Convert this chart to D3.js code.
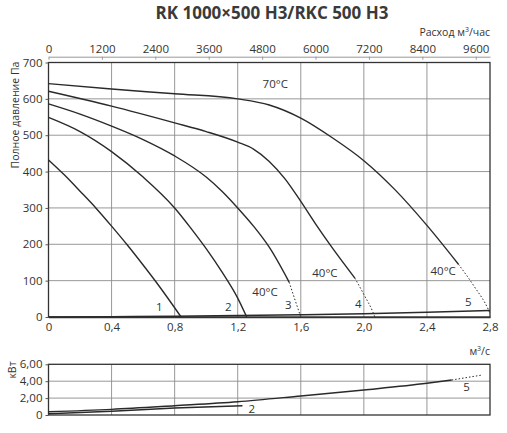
<!DOCTYPE html>
<html>
<head>
<meta charset="utf-8">
<script src="https://cdn.jsdelivr.net/npm/d3@7"></script>
<style>
  body { margin: 0; background: #fff; }
  text { font-family: "Open Sans", "Noto Sans", sans-serif; fill: #333; }
  .grid line { stroke: #8c8c8c; stroke-width: 0.9; }
  .curve { fill: none; stroke: #2a2a2a; stroke-width: 1.4; }
  .dash { fill: none; stroke: #2a2a2a; stroke-width: 1; stroke-dasharray: 1.5,2; }
  .axis text { font-size: 11.5px; }
</style>
</head>
<body>
<div id="chart"></div>
<script>
// fan curves, x = m3/s, y = Pa
var curve1 = [[0,432],[0.1,391],[0.2,346],[0.3,300],[0.4,250],[0.5,198],[0.6,143],[0.7,86],[0.841,0]];
var curve2 = [[0,549],[0.2,510],[0.4,455],[0.6,385],[0.8,300],[0.9,246],[1.0,188],[1.1,124],[1.2,52],[1.257,0]];
var curve3 = [[0,586],[0.2,558],[0.4,525],[0.6,488],[0.8,443],[1.0,385],[1.1,346],[1.2,300],[1.3,250],[1.4,192],[1.526,96]];
var curve3Dash = [[1.526,96],[1.568,41],[1.6,0]];
var curve4 = [[0,621],[0.4,580],[0.8,534],[1.0,510],[1.2,481],[1.3,462],[1.4,428],[1.5,380],[1.6,318],[1.7,252],[1.8,190],[1.943,107]];
var curve4Dash = [[1.943,107],[2.0,62],[2.057,14],[2.07,0]];
var curve5 = [[0,642],[0.4,627],[0.8,614],[1.2,600],[1.4,583],[1.6,547],[1.8,493],[2.0,430],[2.2,349],[2.4,252],[2.6,145]];
var curve5Dash = [[2.6,145],[2.7,84],[2.79,20],[2.8,10]];
var systemLine = [[0,0],[0.4,1],[0.8,2],[1.2,4],[1.6,6],[2.0,9],[2.4,13],[2.8,18]];

// power, x = m3/s, y = kW
var power2 = [[0,0.15],[0.4,0.45],[0.8,0.82],[1.23,1.1]];
var power5 = [[0,0.39],[0.4,0.67],[0.8,1.1],[1.2,1.57],[1.6,2.25],[2.0,2.96],[2.4,3.75],[2.557,4.14]];
var power5Dash = [[2.557,4.14],[2.75,4.73]];

var xTicks = [0,0.4,0.8,1.2,1.6,2.0,2.4,2.8];
var topTicks = [0,1200,2400,3600,4800,6000,7200,8400,9600];
var paTicks = [0,100,200,300,400,500,600,700];
var kwTicks = [0,2,4,6];

// curve labels [x, y, text]
var curveLabels = [[0.703,27,"1"],[1.14,27,"2"],[1.521,33,"3"],[1.965,35,"4"],[2.662,42,"5"],
                   [1.373,69,"40°C"],[1.753,120,"40°C"],[2.503,127,"40°C"],[1.438,640,"70°C"]];
var powerLabels = [[1.289,0.71,"2"],[2.652,3.31,"5"]];

var width = 507, height = 433;
var svg = d3.select("#chart").append("svg")
    .attr("width", width).attr("height", height);

var x = d3.scaleLinear().domain([0, 2.8]).range([48.5, 490]);
var xTop = d3.scaleLinear().domain([0, 9920]).range([48.5, 490]);
var y = d3.scaleLinear().domain([0, 700]).range([317, 62.5]);
var yKw = d3.scaleLinear().domain([0, 6]).range([415, 364.3]);

var comma = function (d) { return d === 0 ? "0" : d3.format(".1f")(d).replace(".", ","); };
var comma2 = function (d) { return d === 0 ? "0" : d3.format(".2f")(d).replace(".", ","); };

// title
svg.append("text")
    .attr("x", 272).attr("y", 19)
    .attr("text-anchor", "middle")
    .style("font-size", "17px").style("font-weight", "bold").style("fill", "#3a3a3a")
    .text("RK 1000×500 H3/RKC 500 H3");

function drawPanel(yScale, yTicks, fmt) {
    var g = svg.append("g");
    // grid
    var grid = g.append("g").attr("class", "grid");
    grid.selectAll(".v").data(xTicks.slice(1, -1)).enter().append("line")
        .attr("x1", x).attr("x2", x)
        .attr("y1", yScale.range()[0]).attr("y2", yScale.range()[1]);
    grid.selectAll(".h").data(yTicks.slice(1, -1)).enter().append("line")
        .attr("x1", x(0)).attr("x2", x(2.8))
        .attr("y1", yScale).attr("y2", yScale);
    // border
    g.append("rect")
        .attr("x", x(0)).attr("y", yScale.range()[1])
        .attr("width", x(2.8) - x(0)).attr("height", yScale.range()[0] - yScale.range()[1])
        .attr("fill", "none").attr("stroke", "#333").attr("stroke-width", 1.3);
    // y axis
    var ya = g.append("g").attr("class", "axis")
        .attr("transform", "translate(" + x(0) + ",0)")
        .call(d3.axisLeft(yScale).tickValues(yTicks).tickFormat(fmt).tickSize(3).tickPadding(3));
    ya.select(".domain").remove();
    ya.selectAll("line").attr("stroke", "#555");
    return g;
}

drawPanel(y, paTicks, d3.format("d"));
drawPanel(yKw, kwTicks, comma2);

// bottom x axis labels under top chart
var xa = svg.append("g").attr("class", "axis")
    .attr("transform", "translate(0," + y(0) + ")")
    .call(d3.axisBottom(x).tickValues(xTicks).tickFormat(comma).tickSize(0).tickPadding(6));
xa.select(".domain").attr("stroke", "#333").attr("stroke-width", 1.6);

// top axis m3/h
var ta = svg.append("g").attr("class", "axis")
    .attr("transform", "translate(0,56.7)")
    .call(d3.axisTop(xTop).tickValues(topTicks).tickFormat(d3.format("d"))
        .tickSizeInner(-3).tickSizeOuter(0).tickPadding(4));
ta.select(".domain").attr("stroke", "#999");
ta.selectAll("line").attr("stroke", "#999");

svg.append("text")
    .attr("x", 490).attr("y", 36).attr("text-anchor", "end")
    .style("font-size", "10.5px")
    .html("Расход м<tspan dy='-4' style='font-size:7px'>3</tspan><tspan dy='4'>/час</tspan>");

svg.append("text")
    .attr("x", 490).attr("y", 355).attr("text-anchor", "end")
    .style("font-size", "10.5px")
    .html("м<tspan dy='-4' style='font-size:7px'>3</tspan><tspan dy='4'>/с</tspan>");

svg.append("text")
    .attr("transform", "translate(19,115) rotate(-90)")
    .attr("text-anchor", "middle")
    .style("font-size", "10.5px")
    .text("Полное давление Па");

svg.append("text")
    .attr("transform", "translate(16,370) rotate(-90)")
    .attr("text-anchor", "middle")
    .style("font-size", "10.5px")
    .text("кВт");

// curves
var line = d3.line().x(function (d) { return x(d[0]); }).y(function (d) { return y(d[1]); })
    .curve(d3.curveMonotoneX);
var lineKw = d3.line().x(function (d) { return x(d[0]); }).y(function (d) { return yKw(d[1]); })
    .curve(d3.curveMonotoneX);

[curve1, curve2, curve3, curve4, curve5, systemLine].forEach(function (c) {
    svg.append("path").attr("class", "curve").attr("d", line(c));
});
[curve3Dash, curve4Dash, curve5Dash].forEach(function (c) {
    svg.append("path").attr("class", "dash").attr("d", line(c));
});
[power2, power5].forEach(function (c) {
    svg.append("path").attr("class", "curve").attr("d", lineKw(c));
});
svg.append("path").attr("class", "dash").attr("d", lineKw(power5Dash));

// labels
svg.selectAll(".clabel").data(curveLabels).enter().append("text")
    .attr("class", "clabel")
    .attr("x", function (d) { return x(d[0]); })
    .attr("y", function (d) { return y(d[1]); })
    .attr("dy", "0.35em")
    .attr("text-anchor", "middle")
    .style("font-size", "11.5px")
    .text(function (d) { return d[2]; });

svg.selectAll(".plabel").data(powerLabels).enter().append("text")
    .attr("class", "plabel")
    .attr("x", function (d) { return x(d[0]); })
    .attr("y", function (d) { return yKw(d[1]); })
    .attr("dy", "0.35em")
    .attr("text-anchor", "middle")
    .style("font-size", "11.5px")
    .text(function (d) { return d[2]; });
</script>
</body>
</html>
